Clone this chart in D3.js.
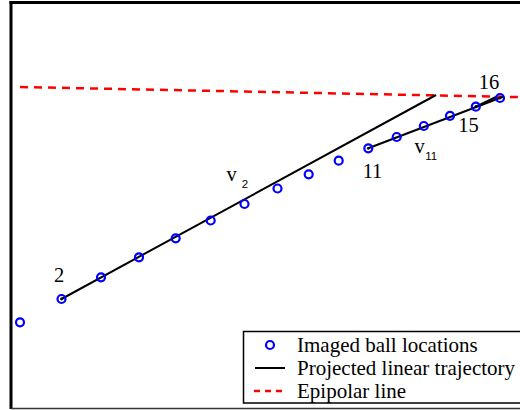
<!DOCTYPE html>
<html>
<head>
<meta charset="utf-8">
<script src="https://cdn.jsdelivr.net/npm/d3@7"></script>
<style>
  html, body { margin: 0; padding: 0; background: #fff; }
  svg { display: block; }
  text { font-family: "Liberation Serif", "Times New Roman", serif; fill: #000; }
  .sub { font-family: "Liberation Sans", Arial, sans-serif; }
</style>
</head>
<body>
<svg id="chart" width="520" height="410"></svg>
<script>
// Imaged ball locations (image coordinates, y grows downward), frames 1..16
const frameIds = [1, 2, 3, 4, 5, 6, 7, 8, 9, 10, 11, 12, 13, 14, 15, 16];
const ballX = [9, 50.5, 90, 128, 164.7, 199.7, 233.5, 266.5, 297.7, 327.7, 357.3, 385.7, 412.8, 439, 464.8, 489];
const ballY = [319.8, 296.5, 274.8, 254.8, 235.8, 218, 201.5, 186, 171.8, 158.2, 145.8, 134.5, 123.5, 113.3, 104.2, 95.5];

// Projected linear trajectories: start frame and end point on the epipolar line
const trajStartFrame = [2, 11, 15];
const trajEndX = [425, 492, 486];
const trajEndY = [92.5, 94.2, 94];

// Epipolar line endpoints
const epiX = [9, 519];
const epiY = [84.5, 94.8];

// Frame numbers written next to selected balls
const frameLabels = ["2", "11", "15", "16"];
const frameLabelX = [48, 361.5, 457.5, 478];
const frameLabelY = [279.5, 175.5, 129.5, 86.5];

// Vanishing point names
const vpNames = ["v", "v"];
const vpSubs = ["2", "11"];
const vpX = [215.5, 403.5];
const vpY = [178.5, 150.5];

const legendLabels = ["Imaged ball locations", "Projected linear trajectory", "Epipolar line"];

const svg = d3.select("#chart");

const x = d3.scaleLinear().domain([0, 520]).range([11, 531]);
const y = d3.scaleLinear().domain([0, 406]).range([2.5, 408.5]);

const balls = frameIds.map((f, i) => ({ f, x: ballX[i], y: ballY[i] }));
const byFrame = new Map(balls.map(b => [b.f, b]));

svg.append("clipPath").attr("id", "plotclip")
  .append("rect").attr("x", 11).attr("y", 2.5).attr("width", 520).attr("height", 406);

const plot = svg.append("g").attr("clip-path", "url(#plotclip)");

// epipolar line
plot.append("line")
  .attr("x1", x(epiX[0])).attr("y1", y(epiY[0]))
  .attr("x2", x(epiX[1])).attr("y2", y(epiY[1]))
  .attr("stroke", "#ff0000").attr("stroke-width", 2.5)
  .attr("stroke-dasharray", "8,6");

// projected trajectories
const trajs = trajStartFrame.map((f, i) => ({ s: byFrame.get(f), ex: trajEndX[i], ey: trajEndY[i] }));
plot.selectAll("line.traj").data(trajs).join("line")
  .attr("class", "traj")
  .attr("x1", d => x(d.s.x)).attr("y1", d => y(d.s.y))
  .attr("x2", d => x(d.ex)).attr("y2", d => y(d.ey))
  .attr("stroke", "#000").attr("stroke-width", 2);

// ball markers
plot.selectAll("circle.ball").data(balls).join("circle")
  .attr("class", "ball")
  .attr("cx", d => x(d.x)).attr("cy", d => y(d.y))
  .attr("r", 4)
  .attr("fill", "none").attr("stroke", "#0000ff").attr("stroke-width", 2.2);

// trajectory start markers
const marked = [2, 11, 15, 16].map(f => byFrame.get(f));
plot.selectAll("circle.mark").data(marked).join("circle")
  .attr("class", "mark")
  .attr("cx", d => x(d.x)).attr("cy", d => y(d.y))
  .attr("r", 1.4).attr("fill", "#000");

// frame number labels
plot.selectAll("text.flabel").data(frameLabels).join("text")
  .attr("class", "flabel")
  .attr("x", (d, i) => x(frameLabelX[i])).attr("y", (d, i) => y(frameLabelY[i]))
  .attr("text-anchor", "middle")
  .attr("font-size", 20.5)
  .text(d => d);

// vanishing point labels
vpNames.forEach((n, i) => {
  const t = plot.append("text")
    .attr("x", x(vpX[i])).attr("y", y(vpY[i]))
    .attr("font-size", 20.5);
  t.append("tspan").text(n);
  t.append("tspan").attr("class", "sub").attr("font-size", 11.5)
    .attr("dx", i === 0 ? 5 : 0.5).attr("dy", 6.5).text(vpSubs[i]);
});

// axes frame
svg.append("line").attr("x1", 11).attr("y1", 1).attr("x2", 11).attr("y2", 409)
  .attr("stroke", "#000").attr("stroke-width", 3);
svg.append("line").attr("x1", 9.5).attr("y1", 2.5).attr("x2", 520).attr("y2", 2.5)
  .attr("stroke", "#000").attr("stroke-width", 3);
svg.append("line").attr("x1", 11).attr("y1", 408.5).attr("x2", 520).attr("y2", 408.5)
  .attr("stroke", "#333").attr("stroke-width", 1.5);

// legend
const lg = svg.append("g");
lg.append("rect").attr("x", 243.5).attr("y", 331.5).attr("width", 290).attr("height", 71.5)
  .attr("fill", "#fff").attr("stroke", "#000").attr("stroke-width", 1.5);
const rowY = [345, 368, 391];
lg.append("circle").attr("cx", 270).attr("cy", rowY[0]).attr("r", 4)
  .attr("fill", "none").attr("stroke", "#0000ff").attr("stroke-width", 2.2);
lg.append("line").attr("x1", 255).attr("x2", 285).attr("y1", rowY[1]).attr("y2", rowY[1])
  .attr("stroke", "#000").attr("stroke-width", 2);
lg.append("line").attr("x1", 254).attr("x2", 285).attr("y1", rowY[2]).attr("y2", rowY[2])
  .attr("stroke", "#ff0000").attr("stroke-width", 2.5).attr("stroke-dasharray", "6,5");
lg.selectAll("text").data(legendLabels).join("text")
  .attr("x", 297).attr("y", (d, i) => rowY[i] + 7)
  .attr("font-size", 21)
  .text(d => d);
</script>
</body>
</html>
